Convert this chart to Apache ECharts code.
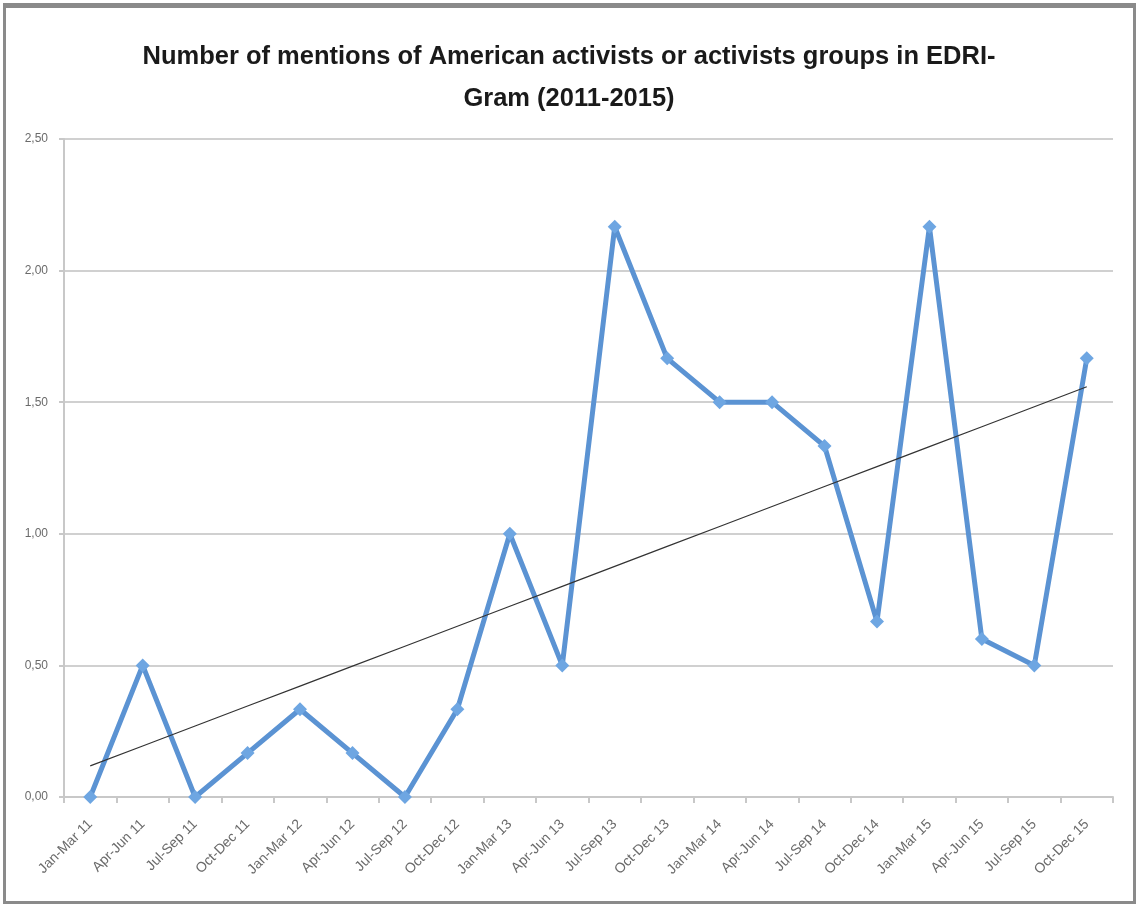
<!DOCTYPE html>
<html>
<head>
<meta charset="utf-8">
<script src="https://cdn.jsdelivr.net/npm/echarts@6/dist/echarts.min.js"></script>
<style>
  html, body { margin: 0; padding: 0; background: #ffffff; }
  #frame { position: absolute; left: 3px; top: 3px; width: 1127px; height: 893px; border: 3px solid #8a8a8a; border-top-width: 5px; box-sizing: content-box; }
  #chart { position: absolute; left: 0; top: 0; width: 1138px; height: 904px; }
</style>
</head>
<body>
<div id="frame"></div>
<div id="chart"></div>
<script>
const titleText = 'Number of mentions of American activists or activists groups in EDRI-\nGram (2011-2015)';
const categories = ['Jan-Mar 11','Apr-Jun 11','Jul-Sep 11','Oct-Dec 11','Jan-Mar 12','Apr-Jun 12','Jul-Sep 12','Oct-Dec 12','Jan-Mar 13','Apr-Jun 13','Jul-Sep 13','Oct-Dec 13','Jan-Mar 14','Apr-Jun 14','Jul-Sep 14','Oct-Dec 14','Jan-Mar 15','Apr-Jun 15','Jul-Sep 15','Oct-Dec 15'];
const mentions = [0, 0.5, 0, 0.1667, 0.3333, 0.1667, 0, 0.3333, 1.0, 0.5, 2.1667, 1.6667, 1.5, 1.5, 1.3333, 0.6667, 2.1667, 0.6, 0.5, 1.6667];
const yTicks = [0, 0.5, 1.0, 1.5, 2.0, 2.5];

// Linear trend line (least squares) computed from the series values
const n = mentions.length;
const meanX = (n - 1) / 2;
const meanY = mentions.reduce((a, b) => a + b, 0) / n;
let sxy = 0, sxx = 0;
mentions.forEach((y, i) => { sxy += (i - meanX) * (y - meanY); sxx += (i - meanX) * (i - meanX); });
const slope = sxy / sxx;
const intercept = meanY - slope * meanX;
const trend = mentions.map((_, i) => intercept + slope * i);

const fontFam = '"Liberation Sans", Arial, sans-serif';
const chart = echarts.init(document.getElementById('chart'));
chart.setOption({
  backgroundColor: 'transparent',
  animation: false,
  title: {
    text: titleText,
    left: 'center',
    top: 31,
    textStyle: {
      fontFamily: fontFam,
      fontWeight: 'bold',
      fontSize: 25.5,
      lineHeight: 42,
      color: '#1a1a1a'
    }
  },
  grid: { left: 64, right: 25, top: 139, bottom: 107 },
  xAxis: {
    type: 'category',
    data: categories,
    boundaryGap: true,
    axisLine: { show: true, lineStyle: { color: '#c8c8c8', width: 2 } },
    axisTick: { show: true, alignWithLabel: false, length: 6, lineStyle: { color: '#c8c8c8', width: 2 } },
    axisLabel: {
      rotate: 45,
      interval: 0,
      margin: 25,
      fontSize: 14,
      color: '#6a6a6a',
      fontFamily: fontFam
    },
    splitLine: { show: false }
  },
  yAxis: {
    type: 'value',
    min: yTicks[0],
    max: yTicks[yTicks.length - 1],
    interval: yTicks[1] - yTicks[0],
    axisLine: { show: true, lineStyle: { color: '#c8c8c8', width: 2 } },
    axisTick: { show: true, length: 5, lineStyle: { color: '#c8c8c8', width: 2 } },
    axisLabel: {
      fontSize: 12,
      color: '#6a6a6a',
      margin: 16,
      fontFamily: fontFam,
      formatter: v => v.toFixed(2).replace('.', ',')
    },
    splitLine: { show: true, lineStyle: { color: '#d0d0d0', width: 2 } }
  },
  series: [
    {
      name: 'Mentions',
      type: 'line',
      data: mentions,
      symbol: 'diamond',
      symbolSize: 14,
      lineStyle: { color: '#5b93d3', width: 5 },
      itemStyle: { color: '#6ea6e2' },
      z: 3
    },
    {
      name: 'Trend',
      type: 'line',
      data: trend,
      symbol: 'none',
      lineStyle: { color: '#333333', width: 1.2 },
      z: 4
    }
  ]
});
</script>
</body>
</html>
